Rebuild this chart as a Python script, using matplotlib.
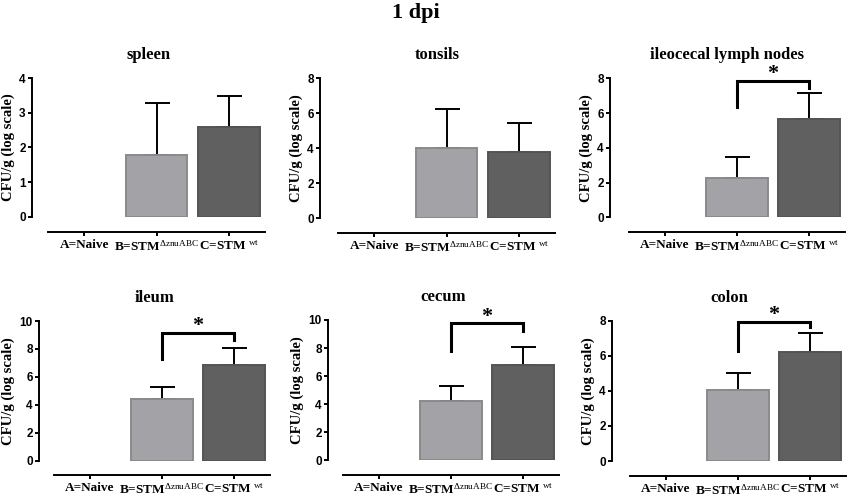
import matplotlib
matplotlib.use("Agg")
import matplotlib.pyplot as plt
import numpy as np

plt.rcParams['font.family'] = ['Liberation Serif', 'DejaVu Serif']
plt.rcParams['mathtext.fontset'] = 'custom'
plt.rcParams['mathtext.rm'] = 'Liberation Serif'
plt.rcParams['mathtext.it'] = 'Liberation Serif:italic'
plt.rcParams['mathtext.bf'] = 'Liberation Serif:bold'

# ---- data (log CFU/g, mean and upper error) ----
groups = ["A=Naive", r"B=STM$^{\mathrm{\Delta znuABC}}$", r"C=STM $^{\mathrm{wt}}$"]
tissues = ["spleen", "tonsils", "ileocecal lymph nodes", "ileum", "cecum", "colon"]
ymax = [4, 8, 8, 10, 10, 8]
ystep = [1, 2, 2, 2, 2, 2]

spleen_mean = [0, 1.78, 2.60]
spleen_err = [0, 1.52, 0.89]
tonsils_mean = [0, 4.00, 3.81]
tonsils_err = [0, 2.23, 1.62]
icln_mean = [0, 2.24, 5.64]
icln_err = [0, 1.25, 1.49]
ileum_mean = [0, 4.44, 6.83]
ileum_err = [0, 0.84, 1.26]
cecum_mean = [0, 4.23, 6.79]
cecum_err = [0, 1.07, 1.26]
colon_mean = [0, 4.05, 6.21]
colon_err = [0, 0.95, 1.07]

means = [spleen_mean, tonsils_mean, icln_mean, ileum_mean, cecum_mean, colon_mean]
errs = [spleen_err, tonsils_err, icln_err, ileum_err, cecum_err, colon_err]

# significance brackets B vs C: (bar height, left leg end, right leg end), None = no bracket
brackets = [None, None, (7.86, 6.37, 7.46), (9.16, 7.28, 8.64), (9.76, 7.81, 9.24), (7.94, 6.27, 7.66)]

# ---- layout in pixels: (left, right, top, bottom, y-spine x, x-axis y) ----
W, H = 850, 498
boxes = [
    (48, 265, 78.3, 216.7, 32, 232.3),
    (338, 555, 78.3, 218.3, 320, 233),
    (629, 845, 78.3, 217.3, 610, 232),
    (54, 270, 321, 460.7, 39, 475),
    (343, 559, 320, 460.3, 328, 475),
    (630, 846, 320.7, 461, 612, 475.7),
]
px2pt = 0.72

bar_colors = ["#a3a3a7", "#a3a3a7", "#606060"]
edge_colors = ["#8a8a8a", "#8a8a8a", "#545454"]

fig = plt.figure(figsize=(8.5, 4.98), dpi=100)
fig.text(416 / W, 1 - 13 / H, "1 dpi", ha="center", va="center",
         fontsize=16, fontweight="bold")

for i in range(6):
    l, r, t, b, sx, ay = boxes[i]
    ax = fig.add_axes([l / W, 1 - b / H, (r - l) / W, (b - t) / H])

    # spines first: moving them resets the ticks
    for s in ["top", "right"]:
        ax.spines[s].set_visible(False)
    ax.spines["left"].set_position(("outward", (l - sx) * px2pt))
    ax.spines["bottom"].set_position(("outward", (ay - b) * px2pt))
    ax.spines["left"].set_linewidth(1.4)
    ax.spines["bottom"].set_linewidth(1.4)

    x = np.arange(3)
    m = np.array(means[i])
    e = np.array(errs[i])
    show = m > 0
    ax.bar(x[show], m[show], width=0.85,
           color=[bar_colors[k] for k in x[show]],
           edgecolor=[edge_colors[k] for k in x[show]], linewidth=1.4, zorder=2)
    ax.errorbar(x[show], m[show], yerr=[np.zeros(show.sum()), e[show]], fmt="none",
                ecolor="black", elinewidth=1.4, capsize=9, capthick=1.4,
                zorder=1, clip_on=False)

    ax.set_xlim(-0.5, 2.5)
    ax.set_ylim(0, ymax[i])
    ax.tick_params(axis="y", direction="out", length=3, width=1.4, pad=1.5)
    ax.tick_params(axis="x", direction="out", length=3, width=1.4, pad=2)
    yt = np.arange(0, ymax[i] + 0.1, ystep[i])
    ax.set_yticks(yt, [str(int(v)) for v in yt], fontfamily="Liberation Sans",
                  fontweight="bold", fontsize=8.5)
    ax.set_xticks(x, groups, fontsize=9.5, fontweight="bold")
    ax.set_ylabel("CFU/g (log scale)", fontsize=10.5, fontweight="bold", labelpad=3)
    ax.patch.set_visible(False)

    # panel title centred between y spine and end of x axis
    fig.text(((sx + r) / 2) / W, 1 - (t - 19) / H, tissues[i], ha="center",
             va="baseline", fontsize=12, fontweight="bold")

    if brackets[i] is not None:
        h, lo1, lo2 = brackets[i]
        ax.plot([1, 1, 2, 2], [lo1, h, h, lo2], color="black", lw=2.2,
                clip_on=False, solid_joinstyle="miter")
        ax.text(1.5, h + 0.01 * ymax[i], "*", ha="center", va="baseline",
                fontsize=16, fontweight="bold", clip_on=False)

fig.savefig("out.png", dpi=100)
